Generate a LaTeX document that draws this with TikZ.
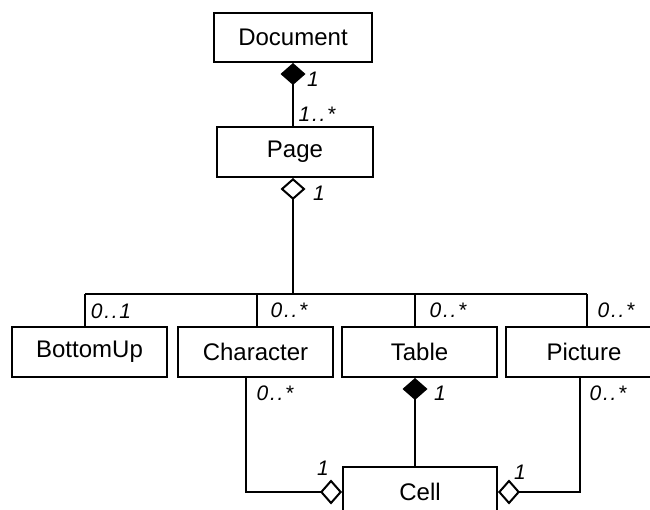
\documentclass[tikz,border=0pt]{standalone}
\usepackage{fontspec}
\setmainfont{Liberation Sans}
\usetikzlibrary{arrows.meta,calc}
\begin{document}
\begin{tikzpicture}[x=1pt,y=-1pt,
  cls/.style={draw,line width=2pt,rectangle,minimum height=50pt,inner sep=0pt,font=\fontsize{24}{28}\selectfont},
  lbl/.style={inner sep=0pt,font=\fontsize{21}{24}\selectfont\itshape\addfontfeature{LetterSpace=8}},
  conn/.style={line width=2pt},
  comp/.style={{Diamond[length=22pt,width=25pt]}-},
  aggs/.style={{Diamond[open,length=22pt,width=25pt]}-},
  agge/.style={-{Diamond[open,length=22pt,width=25pt]}}]
\clip (0,0) rectangle (650,510);
\fill[white] (0,0) rectangle (650,510);
\node[cls,minimum width=158pt,minimum height=49pt] (doc) at (293,37.5) {Document};
\node[cls,minimum width=156pt] (page) at (295,152) {Page};
\node[cls,minimum width=155pt] (bu) at (89.5,352) {BottomUp};
\node[cls,minimum width=155pt] (ch) at (255.5,352) {Character};
\node[cls,minimum width=155pt] (tb) at (419.5,352) {Table};
\node[cls,minimum width=156pt] (pic) at (584,352) {Picture};
\node[cls,minimum width=154pt] (cell) at (420,492) {Cell};
% bus
\coordinate (b1) at (85,294);
\coordinate (b2) at (257,294);
\coordinate (b3) at (415,294);
\coordinate (b4) at (587,294);
\coordinate (pg) at (293,294);
\draw[conn,comp] (doc.south) -- (doc.south |- page.north);
\draw[conn,aggs] (doc.south |- page.south) -- (pg);
\draw[conn] (b1) -- (b4);
\draw[conn] (b1) -- (b1 |- bu.north);
\draw[conn] (b2) -- (b2 |- ch.north);
\draw[conn] (b3) -- (b3 |- tb.north);
\draw[conn] (b4) -- (b4 |- pic.north);
% cell connectors
\coordinate (cx) at (246,0);
\coordinate (tx) at (415,0);
\coordinate (px) at (580,0);
\draw[conn,agge] (ch.south -| cx) |- (cell.west);
\draw[conn,agge] (pic.south -| px) |- (cell.east);
\draw[conn,comp] (tb.south -| tx) -- (cell.north -| tx);
% labels
\node[lbl] (l1) at (313,79) {1};
\node[lbl] (l2) at (317,114) {1..*};
\node[lbl] (l3) at (319,193) {1};
\node[lbl] (l4) at (111,311) {0..1};
\node[lbl] (l5) at (289,310) {0..*};
\node[lbl] (l6) at (448,310) {0..*};
\node[lbl] (l7) at (616,310) {0..*};
\node[lbl] (l8) at (275,393) {0..*};
\node[lbl] (l9) at (440,393) {1};
\node[lbl] (l10) at (608,393) {0..*};
\node[lbl] (l11) at (323,468) {1};
\node[lbl] (l12) at (520,472) {1};
\end{tikzpicture}
\end{document}
